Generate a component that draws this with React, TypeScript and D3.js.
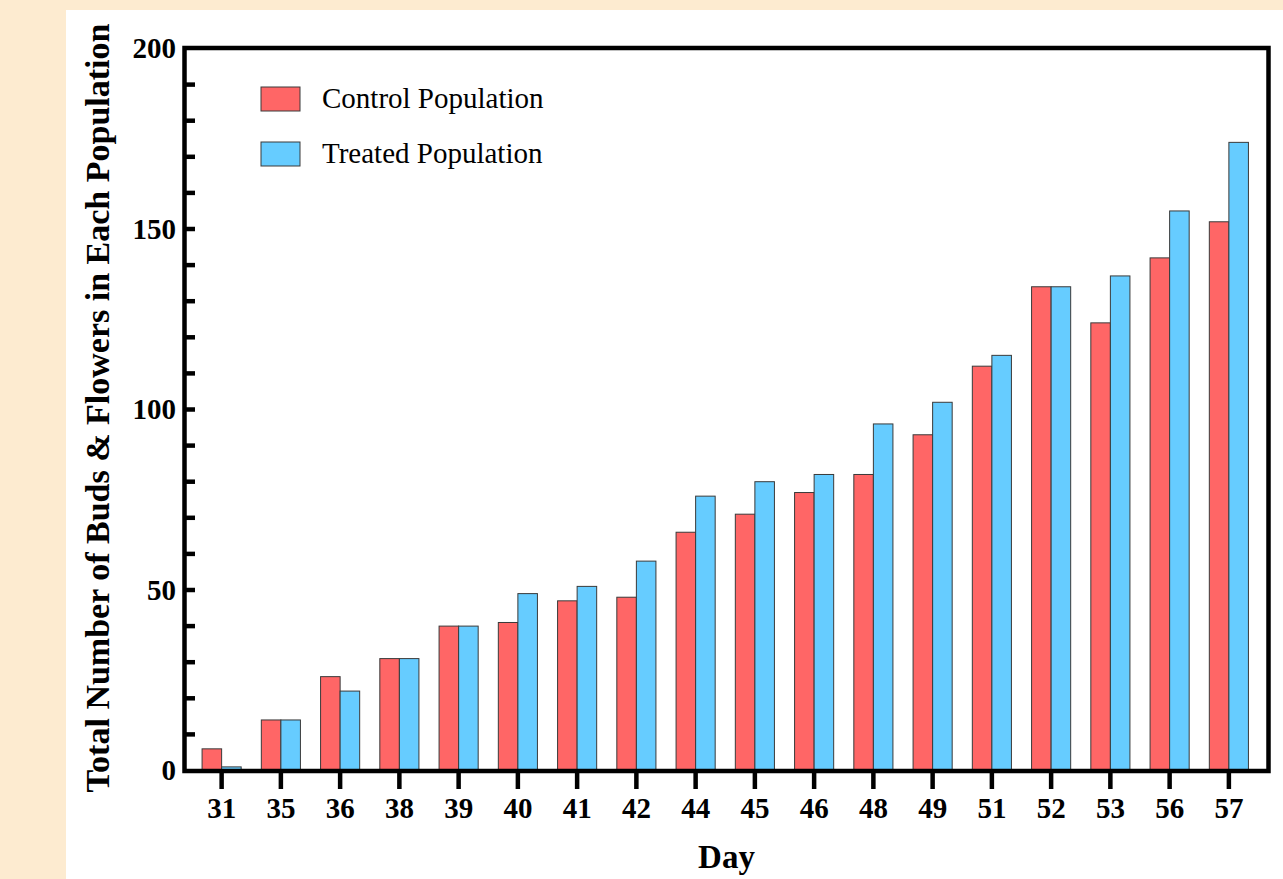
import React from "react";
import * as d3 from "d3";

const days: string[] = ["31","35","36","38","39","40","41","42","44","45","46","48","49","51","52","53","56","57"];
const controlValues: number[] = [6,14,26,31,40,41,47,48,66,71,77,82,93,112,134,124,142,152];
const treatedValues: number[] = [1,14,22,31,40,49,51,58,76,80,82,96,102,115,134,137,155,174];
const seriesNames: string[] = ["Control Population", "Treated Population"];
const seriesColors: string[] = ["#FF6666", "#66CCFF"];
const yMajorTicks: number[] = [0, 50, 100, 150, 200];

const W = 1283;
const H = 879;
const FONT = "'Times New Roman', 'Liberation Serif', serif";

export default function App() {
  const left = 184.5, right = 1268.5, top = 48, bottom = 771;
  const x = d3.scaleBand<string>().domain(days).range([192, 1258.5]).padding(0);
  const inner = d3.scaleBand<string>().domain(seriesNames).range([-x.bandwidth() * 0.33, x.bandwidth() * 0.33]).padding(0);
  const y = d3.scaleLinear().domain([0, 200]).range([770.5, 48.5]);
  const minorTicks = d3.range(10, 200, 10);
  const series = [controlValues, treatedValues];

  return (
    <svg width={W} height={H} style={{ position: "absolute", left: 0, top: 0 }} fontFamily={FONT}>
      <rect x={0} y={0} width={W} height={H} fill="#FDEBD0" />
      <rect x={66} y={10} width={W - 66} height={H - 10} fill="#FFFFFF" />

      {/* bars */}
      {series.map((vals, si) =>
        vals.map((v, i) => {
          const cx = (x(days[i]) as number) + x.bandwidth() / 2;
          const bx = cx + (inner(seriesNames[si]) as number);
          return (
            <rect
              key={`${si}-${i}`}
              x={bx}
              y={y(v)}
              width={inner.bandwidth()}
              height={y(0) - y(v)}
              fill={seriesColors[si]}
              stroke="#3a3a3a"
              strokeWidth={1}
            />
          );
        })
      )}

      {/* y ticks (inward) */}
      {minorTicks.map((t) => (
        <line key={`yt${t}`} x1={left} x2={left + 10.5} y1={y(t)} y2={y(t)} stroke="#000" strokeWidth={4.5} />
      ))}
      {/* x ticks (outward) */}
      {days.map((d) => {
        const cx = (x(d) as number) + x.bandwidth() / 2;
        return <line key={`xt${d}`} x1={cx} x2={cx} y1={bottom} y2={789} stroke="#000" strokeWidth={4.5} />;
      })}

      {/* frame */}
      <rect x={left} y={top} width={right - left} height={bottom - top} fill="none" stroke="#000" strokeWidth={4.5} />

      {/* y tick labels */}
      {yMajorTicks.map((t) => (
        <text key={`yl${t}`} x={176} y={y(t)} dy="0.34em" textAnchor="end" fontSize={29} fontWeight="bold" fill="#000">
          {t}
        </text>
      ))}
      {/* x tick labels */}
      {days.map((d) => (
        <text key={`xl${d}`} x={(x(d) as number) + x.bandwidth() / 2} y={818} textAnchor="middle" fontSize={29} fontWeight="bold" fill="#000">
          {d}
        </text>
      ))}

      {/* axis titles */}
      <text x={(left + right) / 2} y={868} textAnchor="middle" fontSize={33} fontWeight="bold" fill="#000">Day</text>
      <text transform={`translate(109, 408) rotate(-90)`} textAnchor="middle" fontSize={34} fontWeight="bold" fill="#000">
        Total Number of Buds &amp; Flowers in Each Population
      </text>

      {/* legend */}
      {seriesNames.map((name, i) => (
        <g key={name} transform={`translate(261, ${87 + i * 55})`}>
          <rect x={0} y={0} width={39} height={24} fill={seriesColors[i]} stroke="#3a3a3a" strokeWidth={1} />
          <text x={61} y={21} fontSize={29} fill="#000">{name}</text>
        </g>
      ))}
    </svg>
  );
}
